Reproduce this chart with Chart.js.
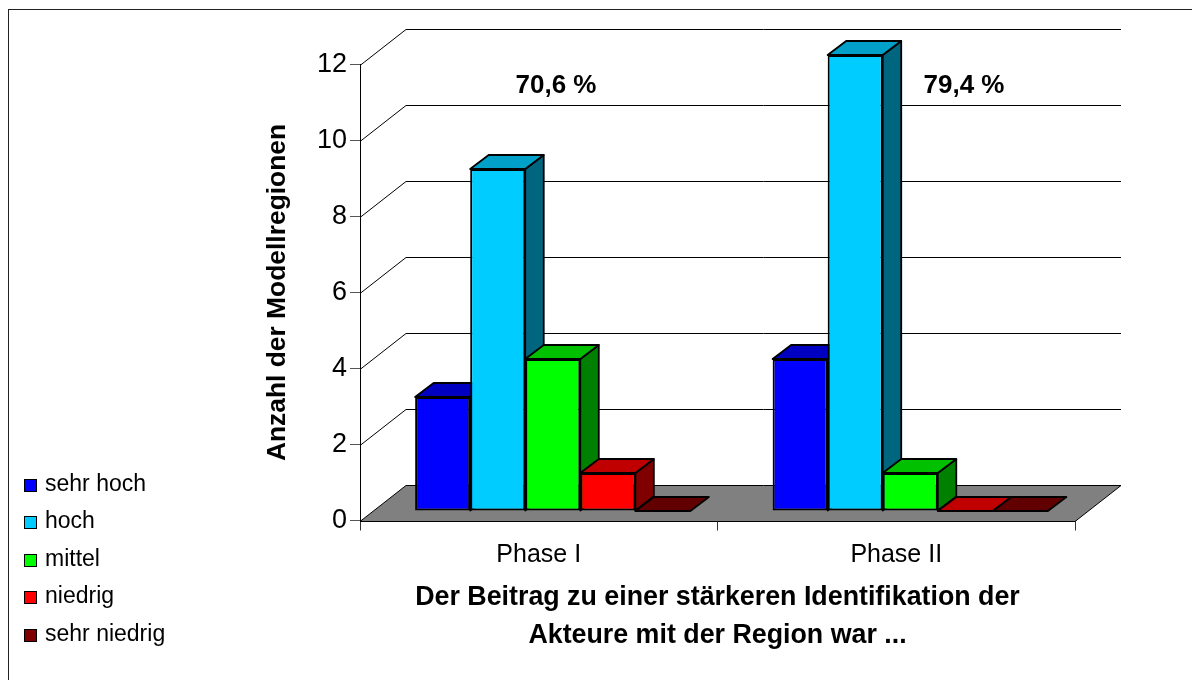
<!DOCTYPE html>
<html lang="de">
<head>
<meta charset="utf-8">
<title>Identifikation der Akteure</title>
<script src="https://cdn.jsdelivr.net/npm/chart.js@4"></script>
<style>
  html, body { margin: 0; height: 100%; overflow: hidden; background: #fff; }
  #frame { position: absolute; left: 8px; top: 9px; width: 1200px; height: 700px; border: 1px solid #222; }
  #wrap { position: absolute; left: 0; top: 0; width: 1192px; height: 680px; }
  #legend { position: absolute; left: 24px; top: 465px; font: 23px "Liberation Sans", Arial, sans-serif; color: #000; }
  .row { height: 37.4px; line-height: 37.4px; white-space: nowrap; }
  .swatch { display: inline-block; width: 11px; height: 11px; border: 1.5px solid #000; margin-right: 8px; vertical-align: -1px; }
  .note { position: absolute; top: 69px; font: bold 26px "Liberation Sans", Arial, sans-serif; transform: translateX(-50%); white-space: nowrap; }
</style>
</head>
<body>
<div id="frame"></div>
<div id="wrap"><canvas id="chart" width="1192" height="680"></canvas></div>
<div id="legend"></div>
<script>
const categories = ['Phase I', 'Phase II'];
const levels = ['sehr hoch', 'hoch', 'mittel', 'niedrig', 'sehr niedrig'];
const sehrHoch = [3, 4];
const hoch = [9, 12];
const mittel = [4, 1];
const niedrig = [1, 0];
const sehrNiedrig = [0, 0];
const yTicks = [0, 2, 4, 6, 8, 10, 12];
const shares = ['70,6 %', '79,4 %'];

const seriesValues = [sehrHoch, hoch, mittel, niedrig, sehrNiedrig];
const frontColors = ['#0000ff', '#00ccff', '#00ff00', '#ff0000', '#800000'];
const topColors   = ['#0000c0', '#00a0c8', '#00c000', '#c00000', '#600000'];
const sideColors  = ['#000080', '#006680', '#008000', '#800000', '#400000'];

const FONT = '"Liberation Sans", Arial, sans-serif';
const WALL = { dx: 46, dy: -36 };   // depth of the floor
const BAR_SHIFT = { dx: 14, dy: -9.5 };
const BAR_DEPTH = { dx: 18.5, dy: -14 };

function poly(ctx, pts, fill) {
  ctx.beginPath();
  pts.forEach((p, i) => i ? ctx.lineTo(p[0], p[1]) : ctx.moveTo(p[0], p[1]));
  ctx.closePath();
  if (fill) { ctx.fillStyle = fill; ctx.fill(); }
  ctx.stroke();
}

// Floor and back wall of the fake 3D box, taken from the scales
function drawBox(chart) {
  const { ctx, scales: { x, y } } = chart;
  const zero = Math.round(y.getPixelForValue(0)) + 0.5;
  ctx.save();
  ctx.strokeStyle = '#000';
  ctx.lineWidth = 1;
  poly(ctx, [[x.left, zero], [x.left + WALL.dx, zero + WALL.dy],
             [x.right + WALL.dx, zero + WALL.dy], [x.right, zero]], '#808080');
  yTicks.filter(v => v > 0).forEach(v => {
    const py = Math.round(y.getPixelForValue(v)) + 0.5;
    ctx.beginPath();
    ctx.moveTo(x.left, py);
    ctx.lineTo(x.left + WALL.dx, py + WALL.dy);
    ctx.lineTo(x.right + WALL.dx, py + WALL.dy);
    ctx.stroke();
  });
  ctx.restore();
}

const fake3d = {
  id: 'fake3d',
  beforeDatasetsDraw(chart) {
    drawBox(chart);
    const ctx = chart.ctx;
    // left to right, so a bar's front covers the side of the bar before it
    chart.data.datasets.forEach((ds, i) => {
      const meta = chart.getDatasetMeta(i);
      ctx.save();
      ctx.translate(BAR_SHIFT.dx, BAR_SHIFT.dy);
      ctx.strokeStyle = '#000';
      ctx.lineWidth = 1.8;
      ctx.lineJoin = 'round';
      meta.data.forEach(bar => {
        const l = bar.x - bar.width / 2, r = bar.x + bar.width / 2;
        const t = bar.y, b = bar.base;
        const d = BAR_DEPTH;
        if (b - t > 0.5) {
          poly(ctx, [[r, t], [r + d.dx, t + d.dy], [r + d.dx, b + d.dy], [r, b]], sideColors[i]);
        }
        poly(ctx, [[l, t], [l + d.dx, t + d.dy], [r + d.dx, t + d.dy], [r, t]], topColors[i]);
      });
      meta.controller.draw();
      ctx.restore();
    });
    return false;
  }
};

new Chart(document.getElementById('chart'), {
  type: 'bar',
  data: {
    labels: categories,
    datasets: levels.map((label, i) => ({
      label,
      data: seriesValues[i],
      backgroundColor: frontColors[i],
      borderColor: '#000',
      borderWidth: 2,
      borderSkipped: false,
      categoryPercentage: 0.77,
      barPercentage: 1
    }))
  },
  options: {
    responsive: false,
    animation: false,
    layout: { padding: { left: 262, right: 117, top: 64.5, bottom: 25.5 } },
    plugins: { legend: { display: false }, tooltip: { enabled: false } },
    scales: {
      x: {
        afterFit(s) { s.height = 134; s.paddingLeft = 0; s.paddingRight = 0; },
        grid: { drawOnChartArea: false, offset: true, color: '#333', tickLength: 10 },
        border: { color: '#000' },
        ticks: { color: '#000', padding: 10, maxRotation: 0, font: { family: FONT, size: 25 } },
        title: {
          display: true,
          text: ['Der Beitrag zu einer stärkeren Identifikation der', 'Akteure mit der Region war ...'],
          color: '#000',
          font: { family: FONT, size: 26.8, weight: 'bold', lineHeight: 1.42 },
          padding: 0
        }
      },
      y: {
        min: 0,
        max: 12,
        afterFit(s) { s.width = 98; s.paddingTop = 0; s.paddingBottom = 0; },
        grid: { drawOnChartArea: false, color: '#555', tickLength: 10 },
        border: { color: '#000' },
        ticks: { color: '#000', stepSize: 2, padding: 3, font: { family: FONT, size: 27 } },
        title: {
          display: true,
          text: 'Anzahl der Modellregionen',
          color: '#000',
          font: { family: FONT, size: 26.4, weight: 'bold' },
          padding: 0
        }
      }
    }
  },
  plugins: [fake3d]
});

// legend and share labels sit outside the plot area
const legendEl = document.getElementById('legend');
levels.forEach((label, i) => {
  const row = document.createElement('div');
  row.className = 'row';
  row.innerHTML = `<span class="swatch" style="background:${frontColors[i]}"></span>${label}`;
  legendEl.appendChild(row);
});
[556, 964].forEach((left, i) => {
  const note = document.createElement('div');
  note.className = 'note';
  note.style.left = left + 'px';
  note.textContent = shares[i];
  document.body.appendChild(note);
});
</script>
</body>
</html>
